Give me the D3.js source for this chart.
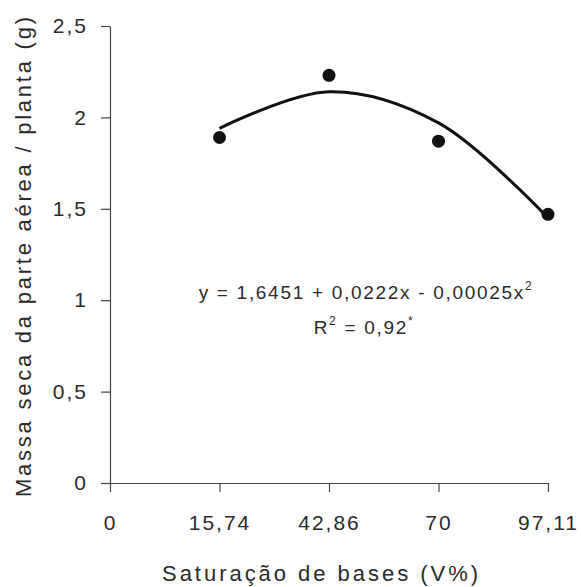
<!DOCTYPE html>
<html>
<head>
<meta charset="utf-8">
<script src="https://cdn.jsdelivr.net/npm/d3@7"></script>
<style>
  body { margin: 0; background: #fff; }
  text { font-family: "Liberation Sans", Arial, sans-serif; fill: #2b2b2b; }
</style>
</head>
<body>
<svg id="chart" width="581" height="587"></svg>
<script>
// categories on the x axis (Saturação de bases, V%)
var saturacao = [0, 15.74, 42.86, 70, 97.11];
// observed dry mass (g/planta), from 15.74 to 97.11
var obsX = [15.74, 42.86, 70, 97.11];
var massaSeca = [1.89, 2.23, 1.87, 1.47];
// fitted curve
var ajustado = [1.94, 2.14, 1.97, 1.45];
var yTicks = [0, 0.5, 1, 1.5, 2, 2.5];

var svg = d3.select("#chart");

var virgula = function(d) { return String(d).replace(".", ","); };

var x = d3.scalePoint()
    .domain(saturacao)
    .range([110, 548]);

var y = d3.scaleLinear()
    .domain([0, 2.5])
    .range([483, 26]);

// y axis
var gy = svg.append("g")
    .attr("transform", "translate(110,0)")
    .call(d3.axisLeft(y).tickValues(yTicks).tickSize(9).tickSizeOuter(0)
      .tickPadding(13).tickFormat(virgula));

// x axis
var gx = svg.append("g")
    .attr("transform", "translate(0,483)")
    .call(d3.axisBottom(x).tickSize(9).tickSizeOuter(0)
      .tickPadding(23).tickFormat(virgula));

svg.selectAll(".domain, .tick line")
    .attr("stroke", "#444")
    .attr("stroke-width", 1.2);

svg.selectAll(".tick text")
    .attr("font-family", "Liberation Sans, Arial, sans-serif")
    .attr("font-size", 21)
    .attr("letter-spacing", 2)
    .attr("fill", "#2b2b2b");

// fitted curve
var line = d3.line()
    .x(function(d, i) { return x(obsX[i]); })
    .y(function(d) { return y(d); })
    .curve(d3.curveCatmullRom);

svg.append("path")
    .datum(ajustado)
    .attr("d", line)
    .attr("fill", "none")
    .attr("stroke", "#111")
    .attr("stroke-width", 3);

// observed points
svg.append("g")
  .selectAll("circle")
    .data(massaSeca)
  .enter().append("circle")
    .attr("cx", function(d, i) { return x(obsX[i]); })
    .attr("cy", function(d) { return y(d); })
    .attr("r", 6.5)
    .attr("fill", "#111");

// equation
var eq = svg.append("text")
    .attr("x", 366)
    .attr("y", 299)
    .attr("text-anchor", "middle")
    .attr("font-size", 19)
    .attr("letter-spacing", 1.7);
eq.append("tspan").text("y = 1,6451 + 0,0222x - 0,00025x");
eq.append("tspan").attr("font-size", 12).attr("dy", -9).text("2");

var r2 = svg.append("text")
    .attr("x", 364)
    .attr("y", 334)
    .attr("text-anchor", "middle")
    .attr("font-size", 19)
    .attr("letter-spacing", 1.7);
r2.append("tspan").text("R");
r2.append("tspan").attr("font-size", 12).attr("dy", -9).text("2");
r2.append("tspan").attr("dy", 9).text(" = 0,92");
r2.append("tspan").attr("font-size", 12).attr("dy", -9).text("*");

// axis titles
svg.append("text")
    .attr("x", 320)
    .attr("y", 581)
    .attr("text-anchor", "middle")
    .attr("font-size", 22)
    .attr("textLength", 316)
    .attr("lengthAdjust", "spacing")
    .text("Saturação de bases (V%)");

svg.append("text")
    .attr("transform", "translate(31,257) rotate(-90)")
    .attr("text-anchor", "middle")
    .attr("font-size", 22)
    .attr("textLength", 480)
    .attr("lengthAdjust", "spacing")
    .text("Massa seca da parte aérea / planta (g)");
</script>
</body>
</html>
